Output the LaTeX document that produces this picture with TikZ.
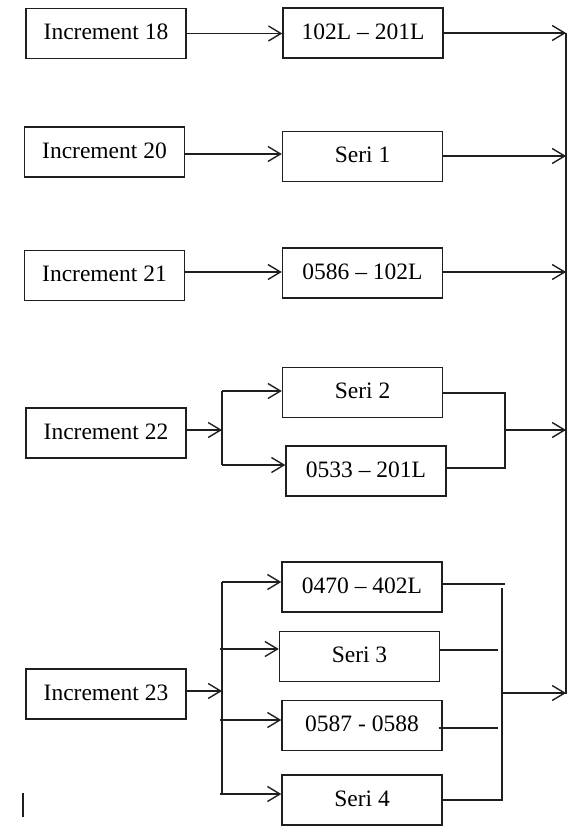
\documentclass[tikz,border=0pt]{standalone}
\usepackage{fontspec}
\setmainfont{Liberation Serif}
\usetikzlibrary{arrows.meta}
% box label: lifted a little and set slightly left of the box centre
\newcommand\bxt[1]{\raisebox{3pt}{#1}\hspace{8pt}}
\begin{document}
\begin{tikzpicture}[x=1pt,y=-1pt,
  line width=1.4pt, draw=black!88,
  box/.style={draw, minimum width=160pt, minimum height=50pt, inner sep=0pt,
              font=\fontsize{23.5}{28}\selectfont},
  arr/.style={-{Straight Barb[length=12.5pt,width=15pt,line width=1.4pt]}},
  wire/.style={line cap=rect}]
\useasboundingbox (0,0) rectangle (570,826);
\fill[white] (0,0) rectangle (570,826);

% left column: increments
\node[box] (i18) at (106,33.5) {\bxt{Increment 18}};
\node[box] (i20) at (104.5,152) {\bxt{Increment 20}};
\node[box] (i21) at (104.5,275.5) {\bxt{Increment 21}};
\node[box] (i22) at (106,433) {\bxt{Increment 22}};
\node[box] (i23) at (106,694) {\bxt{Increment 23}};

% middle column: series
\node[box] (b1) at (363,33) {\bxt{102L -- 201L}};
\node[box] (s1) at (362.5,156.5) {\bxt{Seri 1}};
\node[box] (b2) at (362.5,273) {\bxt{0586 -- 102L}};
\node[box] (s2) at (362.5,392.5) {\bxt{Seri 2}};
\node[box] (b3) at (366,471) {\bxt{0533 -- 201L}};
\node[box] (b4) at (362,587) {\bxt{0470 -- 402L}};
\node[box] (s3) at (359.5,656.5) {\bxt{Seri 3}};
\node[box] (b5) at (362,725.5) {\bxt{0587 - 0588}};
\node[box] (s4) at (362,800) {\bxt{Seri 4}};

% bus, fork and join points
\coordinate (bt) at (566,33);
\coordinate (bb) at (566,694);
\coordinate (f22t) at (222,391);
\coordinate (f22b) at (222,465);
\coordinate (j22t) at (505,393);
\coordinate (j22b) at (505,468);
\coordinate (f23t) at (222,582);
\coordinate (f23b) at (222,794);
\coordinate (j23t) at (502,588);
\coordinate (j23b) at (502,800);

% collecting bus on the right
\draw (bt) -- (bb);

% single rows
\draw[arr] (i18.east) -- (i18.east -| b1.west);
\draw[arr] ([yshift=-2pt]i20.east) -- ([yshift=-2pt]i20.east -| s1.west);
\draw[arr] ([yshift=3.5pt]i21.east) -- ([yshift=3.5pt]i21.east -| b2.west);
\draw[arr] (b1.east) -- (b1.east -| bt);
\draw[arr] ([yshift=0.5pt]s1.east) -- ([yshift=0.5pt]s1.east -| bt);
\draw[arr] ([yshift=1pt]b2.east) -- ([yshift=1pt]b2.east -| bt);

% increment 22: two parallel branches
\draw[arr] ([yshift=3pt]i22.east) -- ([yshift=3pt]i22.east -| f22t);
\draw (f22t) -- (f22b);
\draw[arr] (f22t) -- (f22t -| s2.west);
\draw[arr] (f22b) -- (f22b -| b3.west);
\draw[wire] (s2.east |- j22t) -- (j22t) -- (j22b) -- (b3.east |- j22b);
\draw[arr] (505,430) -- (566,430);

% increment 23: four parallel branches
\draw[arr] ([yshift=3pt]i23.east) -- ([yshift=3pt]i23.east -| f23t);
\draw (f23t) -- (f23b);
\draw[arr] (f23t) -- (f23t -| b4.west);
\draw[arr] (220,649) -- (220,649 -| s3.west);
\draw[arr] (220,720) -- (220,720 -| b5.west);
\draw[arr] (220,794) -- (220,794 -| s4.west);
\draw (b4.east |- 0,584) -- (505,584);
\draw (s3.east |- 0,650) -- (498,650);
\draw ([xshift=-4pt]b5.east |- 0,728) -- (498,728);
\draw (s4.east |- j23b) -- (j23b) -- (j23t);
\draw[arr] (502,693) -- (566,693);

% stray cursor mark
\draw[line width=2.6pt] (23,793) -- (23,817);
\end{tikzpicture}
\end{document}
